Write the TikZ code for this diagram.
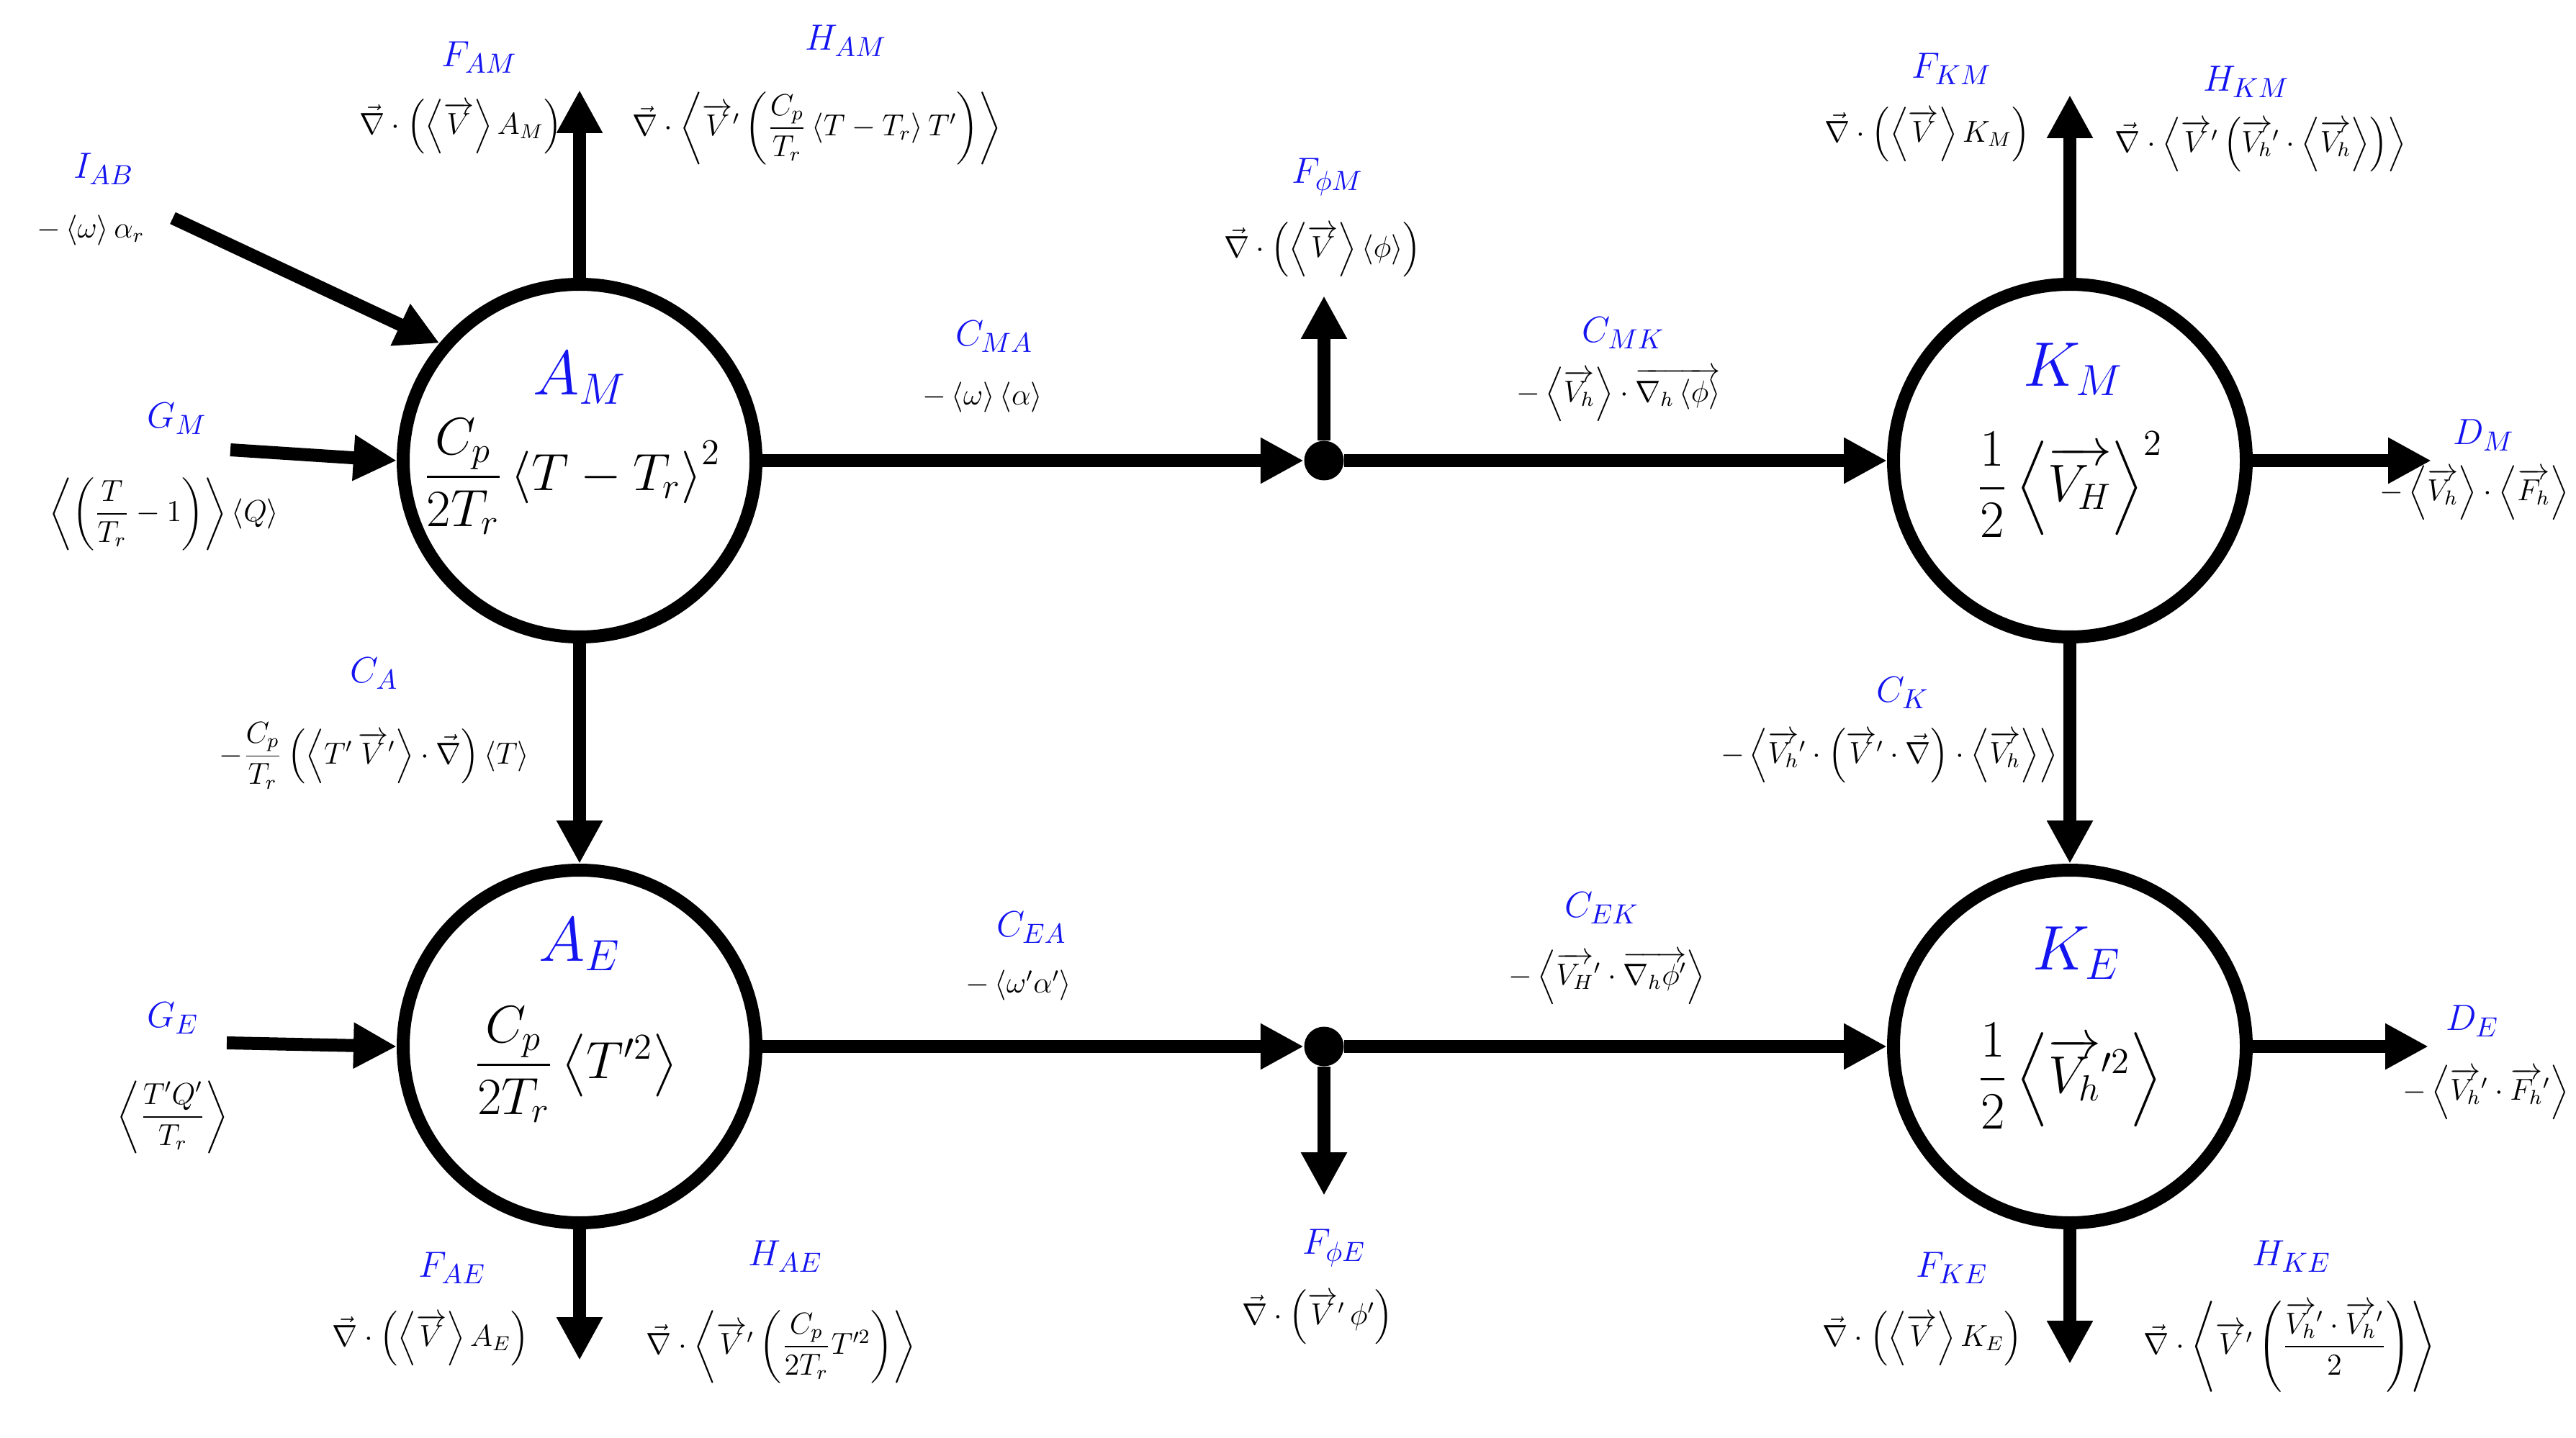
\documentclass[tikz,border=0pt]{standalone}
\usepackage{amsmath}
\usetikzlibrary{arrows.meta}
\definecolor{lblue}{RGB}{20,20,240}
\newcommand{\vv}[1]{\overrightarrow{#1}}
\newcommand{\avg}[1]{\left\langle #1\right\rangle}
\newcommand{\nab}{\vec{\nabla}}
\begin{document}
\begin{tikzpicture}[x=1cm,y=1cm,
  box/.style={circle,draw,line width=0.18cm,minimum size=4.9cm,inner sep=0pt},
  flow/.style={line width=0.18cm,-{Triangle[length=0.6cm,width=0.6cm]}},
  dot/.style={circle,fill,inner sep=0pt,minimum size=0.55cm},
  lab/.style={text=lblue,font=\fontsize{15}{17}\selectfont\itshape},
  big/.style={text=lblue,font=\fontsize{24}{28}\selectfont},
  eq/.style={font=\fontsize{12}{15}\selectfont,inner sep=1pt},
  inn/.style={font=\fontsize{20}{24}\selectfont}]
\useasboundingbox (0,0) rectangle (35.78,-19.98);
% boxes
\node[box] (AM) at (8.05,-6.40) {};
\node[box] (AE) at (8.05,-14.54) {};
\node[box] (KM) at (28.75,-6.40) {};
\node[box] (KE) at (28.75,-14.54) {};
\node[dot] (d1) at (18.39,-6.40) {};
\node[dot] (d2) at (18.39,-14.54) {};
% free ends
\coordinate (FAMe) at (8.05,-1.25);
\coordinate (IABs) at (2.40,-3.03);
\coordinate (GMs) at (3.20,-6.25);
\coordinate (GEs) at (3.15,-14.49);
\coordinate (Fpme) at (18.39,-4.11);
\coordinate (Fpee) at (18.39,-16.61);
\coordinate (FKMe) at (28.75,-1.32);
\coordinate (DMe) at (33.77,-6.40);
\coordinate (DEe) at (33.73,-14.54);
\coordinate (FAEe) at (8.05,-18.90);
\coordinate (FKEe) at (28.75,-18.95);
% connectors
\draw[flow] (AM.north) -- (FAMe);
\draw[flow] (IABs) -- (AM.140);
\draw[flow] (GMs) -- (AM.west);
\draw[flow] (AM.east) -- (d1);
\draw[flow] (d1) -- (Fpme);
\draw[flow] (d1) -- (KM.west);
\draw[flow] (KM.north) -- (FKMe);
\draw[flow] (KM.east) -- (DMe);
\draw[flow] (AM.south) -- (AE.north);
\draw[flow] (KM.south) -- (KE.north);
\draw[flow] (GEs) -- (AE.west);
\draw[flow] (AE.east) -- (d2);
\draw[flow] (d2) -- (Fpee);
\draw[flow] (d2) -- (KE.west);
\draw[flow] (KE.east) -- (DEe);
\draw[flow] (AE.south) -- (FAEe);
\draw[flow] (KE.south) -- (FKEe);
% circle contents
\node[big] (AMl) at (8.05,-5.25) {$A_M$};
\node[inn] (AMf) at (7.95,-6.62) {$\dfrac{C_p}{2T_r}\avg{T-T_r}^2$};
\node[big] (AEl) at (8.05,-13.12) {$A_E$};
\node[inn] (AEf) at (8.00,-14.79) {$\dfrac{C_p}{2T_r}\avg{T'^2}$};
\node[big] (KMl) at (28.80,-5.13) {$K_M$};
\node[inn] (KMf) at (28.75,-6.73) {$\dfrac{1}{2}\avg{\vv{V_H}}^2$};
\node[big] (KEl) at (28.85,-13.24) {$K_E$};
\node[inn] (KEf) at (28.75,-14.95) {$\dfrac{1}{2}\avg{\vv{V_h}'^2}$};
% labels
\node[lab] (l1) at (6.66,-0.80) {$F_{AM}$};
\node[eq] (e1) at (6.40,-1.76) {$\nab\cdot\left(\avg{\vv{V}}A_M\right)$};
\node[lab] (l2) at (11.75,-0.57) {$H_{AM}$};
\node[eq] (e2) at (11.35,-1.78) {$\nab\cdot\avg{\vv{V}'\left(\dfrac{C_p}{T_r}\avg{T-T_r}T'\right)}$};
\node[lab] (l3) at (1.44,-2.35) {$I_{AB}$};
\node[eq] (e3) at (1.26,-3.20) {$-\avg{\omega}\alpha_r$};
\node[lab] (l4) at (2.46,-5.82) {$G_M$};
\node[eq] (e4) at (2.28,-7.14) {$\avg{\left(\dfrac{T}{T_r}-1\right)}\avg{Q}$};
\node[lab] (l5) at (13.81,-4.68) {$C_{MA}$};
\node[eq] (e5) at (13.65,-5.52) {$-\avg{\omega}\avg{\alpha}$};
\node[lab] (l6) at (18.44,-2.46) {$F_{\phi M}$};
\node[eq] (e6) at (18.37,-3.47) {$\nab\cdot\left(\avg{\vv{V}}\avg{\phi}\right)$};
\node[lab] (l7) at (22.55,-4.63) {$C_{MK}$};
\node[eq] (e7) at (22.48,-5.48) {$-\avg{\vv{V_h}}\cdot\overrightarrow{\nabla_h\avg{\phi}}$};
\node[lab] (l8) at (27.11,-0.96) {$F_{KM}$};
\node[eq] (e8) at (26.77,-1.87) {$\nab\cdot\left(\avg{\vv{V}}K_M\right)$};
\node[lab] (l9) at (31.20,-1.14) {$H_{KM}$};
\node[eq] (e9) at (31.40,-2.01) {$\nab\cdot\avg{\vv{V}'\left(\vv{V_h}'\cdot\avg{\vv{V_h}}\right)}$};
\node[lab] (l10) at (34.50,-6.05) {$D_M$};
\node[eq,anchor=east] (e10) at (35.72,-6.85) {$-\avg{\vv{V_h}}\cdot\avg{\vv{F_h}}$};
\node[lab] (l11) at (5.20,-9.36) {$C_A$};
\node[eq] (e11) at (5.20,-10.50) {$-\dfrac{C_p}{T_r}\left(\avg{T'\,\vv{V}'}\cdot\nab\right)\avg{T}$};
\node[lab] (l12) at (26.43,-9.63) {$C_K$};
\node[eq] (e12) at (26.24,-10.50) {$-\avg{\vv{V_h}'\cdot\left(\vv{V}'\cdot\nab\right)\cdot\avg{\vv{V_h}}}$};
\node[lab] (l13) at (2.40,-14.15) {$G_E$};
\node[eq] (e13) at (2.40,-15.52) {$\avg{\dfrac{T'Q'}{T_r}}$};
\node[lab] (l14) at (14.33,-12.89) {$C_{EA}$};
\node[eq] (e14) at (14.15,-13.69) {$-\avg{\omega'\alpha'}$};
\node[lab] (l15) at (22.25,-12.62) {$C_{EK}$};
\node[eq] (e15) at (22.32,-13.58) {$-\avg{\vv{V_H}'\cdot\overrightarrow{\nabla_h\phi'}}$};
\node[lab] (l16) at (34.34,-14.19) {$D_E$};
\node[eq,anchor=east] (e16) at (35.72,-15.18) {$-\avg{\vv{V_h}'\cdot\vv{F_h}'}$};
\node[lab] (l17) at (6.28,-17.62) {$F_{AE}$};
\node[eq] (e17) at (5.98,-18.60) {$\nab\cdot\left(\avg{\vv{V}}A_E\right)$};
\node[lab] (l18) at (10.91,-17.46) {$H_{AE}$};
\node[eq] (e18) at (10.85,-18.71) {$\nab\cdot\avg{\vv{V}'\left(\dfrac{C_p}{2T_r}T'^2\right)}$};
\node[lab] (l19) at (18.53,-17.34) {$F_{\phi E}$};
\node[eq] (e19) at (18.30,-18.30) {$\nab\cdot\left(\vv{V}'\,\phi'\right)$};
\node[lab] (l20) at (27.11,-17.62) {$F_{KE}$};
\node[eq] (e20) at (26.70,-18.60) {$\nab\cdot\left(\avg{\vv{V}}K_E\right)$};
\node[lab] (l21) at (31.83,-17.46) {$H_{KE}$};
\node[eq] (e21) at (31.80,-18.71) {$\nab\cdot\avg{\vv{V}'\left(\dfrac{\vv{V_h}'\cdot\vv{V_h}'}{2}\right)}$};
\end{tikzpicture}
\end{document}
